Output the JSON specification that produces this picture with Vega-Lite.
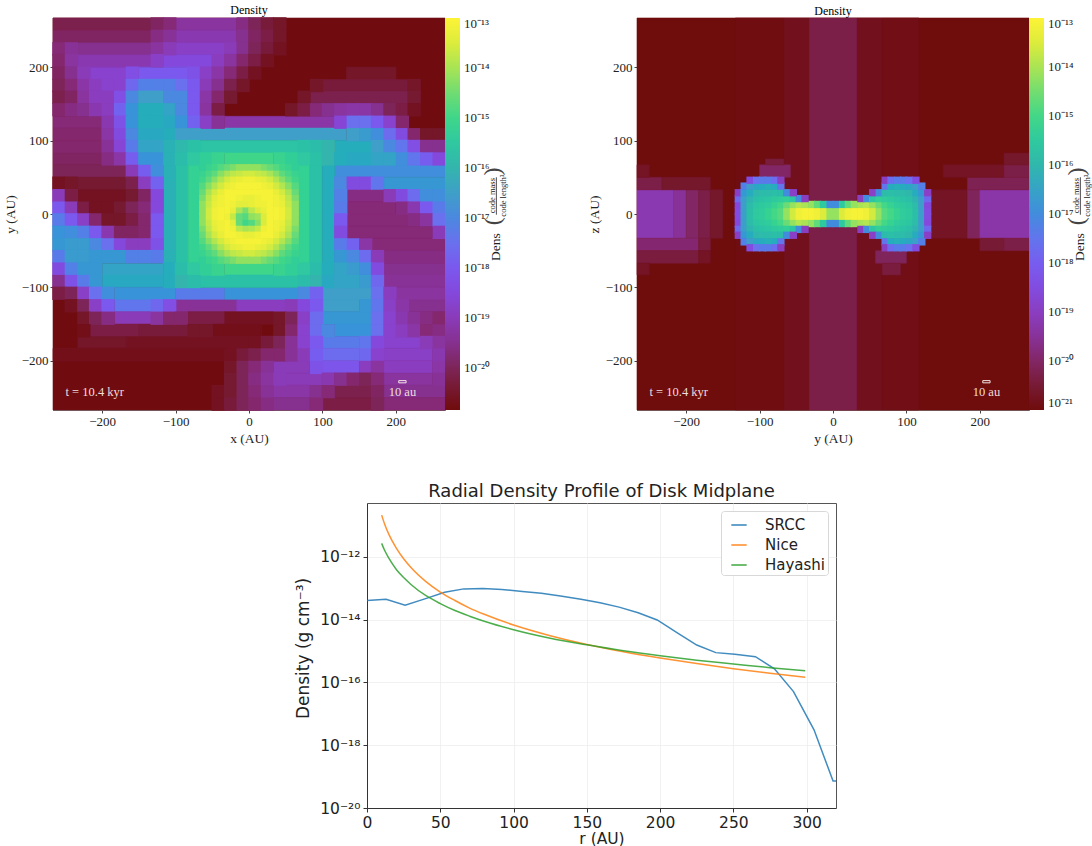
{"$schema":"https://vega.github.io/schema/vega-lite/v6.json","background":"white","padding":{"left":2,"top":3,"right":0,"bottom":0},
"datasets":{
"leftPatches":[
{"x":-267,"x2":267,"y":-267,"y2":267,"d":-20.8},
{"x":-267,"x2":-133,"y":250,"y2":267,"d":-20.1},{"x":-100,"x2":-17,"y":250,"y2":267,"d":-19.3},
{"x":-267,"x2":-133,"y":233,"y2":250,"d":-19.9},{"x":-100,"x2":-17,"y":233,"y2":250,"d":-19.1},
{"x":-233,"x2":-133,"y":217,"y2":233,"d":-19.5},{"x":-100,"x2":-33,"y":217,"y2":233,"d":-18.8},
{"x":-233,"x2":-133,"y":200,"y2":217,"d":-19.1},{"x":-117,"x2":-50,"y":200,"y2":217,"d":-18.5},
{"x":-217,"x2":-167,"y":183,"y2":200,"d":-18.7},{"x":-150,"x2":-83,"y":183,"y2":200,"d":-18},{"x":133,"x2":200,"y":183,"y2":200,"d":-20.5},
{"x":100,"x2":217,"y":167,"y2":183,"d":-20.3},{"x":83,"x2":217,"y":150,"y2":167,"d":-20.1},
{"x":-267,"x2":-200,"y":117,"y2":133,"d":-19.7},{"x":-33,"x2":117,"y":117,"y2":133,"d":-19.2},
{"x":-267,"x2":-200,"y":100,"y2":117,"d":-19.8},{"x":-67,"x2":133,"y":100,"y2":117,"d":-16.5},
{"x":-267,"x2":-200,"y":83,"y2":100,"d":-19.8},{"x":-67,"x2":67,"y":83,"y2":100,"d":-15.6},{"x":117,"x2":167,"y":83,"y2":100,"d":-16.2},
{"x":-267,"x2":-200,"y":67,"y2":83,"d":-19.9},{"x":-33,"x2":33,"y":67,"y2":83,"d":-15},
{"x":-267,"x2":-167,"y":50,"y2":67,"d":-20},{"x":117,"x2":267,"y":50,"y2":67,"d":-16.9},
{"x":-233,"x2":-167,"y":33,"y2":50,"d":-20.4},{"x":183,"x2":267,"y":33,"y2":50,"d":-16.7},
{"x":-233,"x2":-167,"y":17,"y2":33,"d":-20.6},
{"x":133,"x2":183,"y":17,"y2":33,"d":-19.6},
{"x":133,"x2":200,"y":0,"y2":17,"d":-19.7},
{"x":133,"x2":217,"y":-17,"y2":0,"d":-19.7},
{"x":133,"x2":250,"y":-33,"y2":-17,"d":-19.7},
{"x":167,"x2":267,"y":-50,"y2":-33,"d":-19.7},
{"x":183,"x2":267,"y":-67,"y2":-50,"d":-19.6},
{"x":183,"x2":267,"y":-83,"y2":-67,"d":-19.5},{"x":-200,"x2":-117,"y":-83,"y2":-67,"d":-16.4},
{"x":183,"x2":267,"y":-100,"y2":-83,"d":-19.4},{"x":-200,"x2":-117,"y":-100,"y2":-83,"d":-16.3},
{"x":200,"x2":267,"y":-117,"y2":-100,"d":-19.3},{"x":-183,"x2":-100,"y":-117,"y2":-100,"d":-16.8},{"x":-100,"x2":-33,"y":-117,"y2":-100,"d":-17.3},{"x":-33,"x2":67,"y":-117,"y2":-100,"d":-16.8},{"x":100,"x2":167,"y":-117,"y2":-100,"d":-16.5},
{"x":217,"x2":267,"y":-133,"y2":-117,"d":-19.5},{"x":-183,"x2":-133,"y":-133,"y2":-117,"d":-17.4},{"x":-100,"x2":-17,"y":-133,"y2":-117,"d":-19.4},{"x":-17,"x2":50,"y":-133,"y2":-117,"d":-18.9},{"x":100,"x2":150,"y":-133,"y2":-117,"d":-16.5},
{"x":-183,"x2":-133,"y":-150,"y2":-133,"d":-19},{"x":-83,"x2":-33,"y":-150,"y2":-133,"d":-20.2},{"x":-33,"x2":33,"y":-150,"y2":-133,"d":-20.6},{"x":100,"x2":167,"y":-150,"y2":-133,"d":-16.7},
{"x":-217,"x2":-150,"y":-167,"y2":-150,"d":-20.2},{"x":-150,"x2":-83,"y":-167,"y2":-150,"d":-20.3},{"x":-50,"x2":17,"y":-167,"y2":-150,"d":-20.7},{"x":117,"x2":167,"y":-167,"y2":-150,"d":-16.8},
{"x":-233,"x2":-167,"y":-183,"y2":-167,"d":-20.5},{"x":-167,"x2":0,"y":-183,"y2":-167,"d":-20.6},{"x":100,"x2":150,"y":-183,"y2":-167,"d":-17.3},{"x":183,"x2":233,"y":-183,"y2":-167,"d":-18.7},
{"x":-267,"x2":-33,"y":-200,"y2":-183,"d":-20.7},{"x":100,"x2":150,"y":-200,"y2":-183,"d":-17.6},{"x":183,"x2":250,"y":-200,"y2":-183,"d":-18.8},
{"x":100,"x2":150,"y":-217,"y2":-200,"d":-18.1},{"x":183,"x2":250,"y":-217,"y2":-200,"d":-18.9},{"x":33,"x2":83,"y":-217,"y2":-200,"d":-19},
{"x":50,"x2":100,"y":-233,"y2":-217,"d":-19},{"x":183,"x2":250,"y":-233,"y2":-217,"d":-19.3},
{"x":33,"x2":83,"y":-250,"y2":-233,"d":-19.2},{"x":117,"x2":167,"y":-250,"y2":-233,"d":-20.1},{"x":183,"x2":267,"y":-250,"y2":-233,"d":-19.5},
{"x":33,"x2":83,"y":-267,"y2":-250,"d":-19.5},{"x":100,"x2":167,"y":-267,"y2":-250,"d":-20.2},{"x":183,"x2":267,"y":-267,"y2":-250,"d":-19.7},
{"x":-117,"x2":-100,"y":-67,"y2":67,"d":-16.1},{"x":-100,"x2":-83,"y":-67,"y2":67,"d":-15.7},{"x":-83,"x2":-67,"y":-67,"y2":67,"d":-15.2},{"x":67,"x2":83,"y":-67,"y2":67,"d":-15.2},{"x":83,"x2":100,"y":-67,"y2":67,"d":-15.7},{"x":100,"x2":117,"y":-67,"y2":67,"d":-16.2},
{"x":-33,"x2":33,"y":-83,"y2":-67,"d":-15},{"x":-67,"x2":67,"y":-100,"y2":-83,"d":-15.7}
],
"leftCells":[
{"x":-125,"y":259,"d":-19.9},{"x":-108,"y":259,"d":-19.7},{"x":-8,"y":259,"d":-19.6},{"x":8,"y":259,"d":-20},{"x":25,"y":259,"d":-20.3},{"x":42,"y":259,"d":-20.5},
{"x":-125,"y":242,"d":-19.6},{"x":-108,"y":242,"d":-19.4},{"x":-8,"y":242,"d":-19.5},{"x":8,"y":242,"d":-19.9},{"x":25,"y":242,"d":-20.2},{"x":42,"y":242,"d":-20.5},
{"x":-259,"y":225,"d":-19.7},{"x":-242,"y":225,"d":-19.4},{"x":-125,"y":225,"d":-19.3},{"x":-108,"y":225,"d":-19},{"x":-25,"y":225,"d":-19},{"x":-8,"y":225,"d":-19.5},{"x":8,"y":225,"d":-20},{"x":25,"y":225,"d":-20.3},{"x":42,"y":225,"d":-20.6},
{"x":-259,"y":209,"d":-19.8},{"x":-242,"y":209,"d":-19.3},{"x":-125,"y":209,"d":-18.8},{"x":-42,"y":209,"d":-18.9},{"x":-25,"y":209,"d":-19.3},{"x":-8,"y":209,"d":-19.8},{"x":8,"y":209,"d":-20.2},{"x":25,"y":209,"d":-20.6},
{"x":-259,"y":192,"d":-19.9},{"x":-242,"y":192,"d":-19.5},{"x":-225,"y":192,"d":-19},{"x":-159,"y":192,"d":-18.3},{"x":-75,"y":192,"d":-18.2},{"x":-58,"y":192,"d":-18.8},{"x":-42,"y":192,"d":-19.2},{"x":-25,"y":192,"d":-19.7},{"x":-8,"y":192,"d":-20.2},{"x":8,"y":192,"d":-20.6},
{"x":-259,"y":175,"d":-20},{"x":-242,"y":175,"d":-19.7},{"x":-225,"y":175,"d":-19.2},{"x":-209,"y":175,"d":-18.9},{"x":-192,"y":175,"d":-18.7},{"x":-175,"y":175,"d":-18.7},{"x":-159,"y":175,"d":-17.7},{"x":-142,"y":175,"d":-17.2},{"x":-125,"y":175,"d":-17.2},{"x":-108,"y":175,"d":-17.2},{"x":-92,"y":175,"d":-17.5},{"x":-75,"y":175,"d":-18},{"x":-58,"y":175,"d":-19},{"x":-42,"y":175,"d":-19.5},{"x":-25,"y":175,"d":-20.1},{"x":-8,"y":175,"d":-20.5},{"x":92,"y":175,"d":-20.5},{"x":225,"y":175,"d":-20.5},
{"x":-259,"y":159,"d":-20.1},{"x":-242,"y":159,"d":-19.9},{"x":-225,"y":159,"d":-19.3},{"x":-209,"y":159,"d":-18.9},{"x":-192,"y":159,"d":-18.9},{"x":-175,"y":159,"d":-18.3},{"x":-159,"y":159,"d":-17},{"x":-142,"y":159,"d":-16.5},{"x":-125,"y":159,"d":-16.5},{"x":-108,"y":159,"d":-17},{"x":-92,"y":159,"d":-17},{"x":-75,"y":159,"d":-18},{"x":-58,"y":159,"d":-19.2},{"x":-42,"y":159,"d":-19.8},{"x":-25,"y":159,"d":-20.4},{"x":75,"y":159,"d":-20.5},{"x":225,"y":159,"d":-20.4},
{"x":-259,"y":142,"d":-19.8},{"x":-242,"y":142,"d":-19.6},{"x":-225,"y":142,"d":-19.5},{"x":-209,"y":142,"d":-19.1},{"x":-192,"y":142,"d":-18.9},{"x":-175,"y":142,"d":-17.8},{"x":-159,"y":142,"d":-16.8},{"x":-142,"y":142,"d":-16.2},{"x":-125,"y":142,"d":-16.2},{"x":-108,"y":142,"d":-16.4},{"x":-92,"y":142,"d":-17},{"x":-75,"y":142,"d":-18},{"x":-58,"y":142,"d":-19.3},{"x":-42,"y":142,"d":-20.2},{"x":58,"y":142,"d":-20.5},{"x":75,"y":142,"d":-20.2},{"x":92,"y":142,"d":-19.7},{"x":108,"y":142,"d":-19.5},{"x":125,"y":142,"d":-19.3},{"x":142,"y":142,"d":-19.2},{"x":159,"y":142,"d":-19.2},{"x":175,"y":142,"d":-19.5},{"x":192,"y":142,"d":-20},{"x":209,"y":142,"d":-20.2},{"x":225,"y":142,"d":-20.6},
{"x":-192,"y":125,"d":-19.1},{"x":-175,"y":125,"d":-18.2},{"x":-159,"y":125,"d":-16.8},{"x":-142,"y":125,"d":-16.2},{"x":-125,"y":125,"d":-16.2},{"x":-108,"y":125,"d":-16.3},{"x":-92,"y":125,"d":-16.8},{"x":-75,"y":125,"d":-17.8},{"x":-58,"y":125,"d":-18.8},{"x":-42,"y":125,"d":-19.4},{"x":125,"y":125,"d":-18.6},{"x":142,"y":125,"d":-17.5},{"x":159,"y":125,"d":-17.5},{"x":175,"y":125,"d":-18},{"x":192,"y":125,"d":-18.7},{"x":209,"y":125,"d":-19.8},
{"x":-192,"y":108,"d":-19.2},{"x":-175,"y":108,"d":-18.4},{"x":-159,"y":108,"d":-17},{"x":-142,"y":108,"d":-16.3},{"x":-125,"y":108,"d":-16.3},{"x":-108,"y":108,"d":-16.2},{"x":-92,"y":108,"d":-16.5},{"x":-75,"y":108,"d":-16.5},{"x":142,"y":108,"d":-16.5},{"x":159,"y":108,"d":-16.6},{"x":175,"y":108,"d":-16.9},{"x":192,"y":108,"d":-17.6},{"x":209,"y":108,"d":-18.4},{"x":225,"y":108,"d":-19.8},{"x":242,"y":108,"d":-20.5},{"x":259,"y":108,"d":-20.5},
{"x":-192,"y":92,"d":-19.4},{"x":-175,"y":92,"d":-18.6},{"x":-159,"y":92,"d":-17.3},{"x":-142,"y":92,"d":-16.4},{"x":-125,"y":92,"d":-16.4},{"x":-108,"y":92,"d":-16.1},{"x":-92,"y":92,"d":-15.9},{"x":-75,"y":92,"d":-15.7},{"x":75,"y":92,"d":-15.7},{"x":92,"y":92,"d":-15.8},{"x":108,"y":92,"d":-16},{"x":175,"y":92,"d":-16.5},{"x":192,"y":92,"d":-17},{"x":209,"y":92,"d":-17.4},{"x":225,"y":92,"d":-18.3},{"x":242,"y":92,"d":-19.5},{"x":259,"y":92,"d":-19.5},
{"x":-192,"y":75,"d":-19.6},{"x":-175,"y":75,"d":-19.2},{"x":-159,"y":75,"d":-17.9},{"x":-142,"y":75,"d":-16.8},{"x":-125,"y":75,"d":-16.8},{"x":-108,"y":75,"d":-16.1},{"x":-92,"y":75,"d":-15.8},{"x":-75,"y":75,"d":-15.5},{"x":-58,"y":75,"d":-15.3},{"x":-42,"y":75,"d":-15.1},{"x":42,"y":75,"d":-15.1},{"x":58,"y":75,"d":-15.3},{"x":75,"y":75,"d":-15.5},{"x":92,"y":75,"d":-15.7},{"x":108,"y":75,"d":-16},{"x":125,"y":75,"d":-16.2},{"x":142,"y":75,"d":-16.3},{"x":159,"y":75,"d":-16.3},{"x":175,"y":75,"d":-16.4},{"x":192,"y":75,"d":-16.4},{"x":209,"y":75,"d":-16.9},{"x":225,"y":75,"d":-17.4},{"x":242,"y":75,"d":-17.9},{"x":259,"y":75,"d":-18.5},
{"x":-159,"y":58,"d":-19},{"x":-142,"y":58,"d":-17.9},{"x":-125,"y":58,"d":-16.9},
{"x":-259,"y":42,"d":-20.6},{"x":-242,"y":42,"d":-20.5},{"x":-159,"y":42,"d":-20.1},{"x":-142,"y":42,"d":-18.9},{"x":-125,"y":42,"d":-17.8},{"x":125,"y":42,"d":-17},{"x":142,"y":42,"d":-18.4},{"x":159,"y":42,"d":-18.4},{"x":175,"y":42,"d":-17.4},
{"x":-259,"y":25,"d":-19},{"x":-242,"y":25,"d":-20.2},{"x":-159,"y":25,"d":-20.4},{"x":-142,"y":25,"d":-19.9},{"x":-125,"y":25,"d":-18.5},{"x":125,"y":25,"d":-17.2},{"x":192,"y":25,"d":-19},{"x":209,"y":25,"d":-18.4},{"x":225,"y":25,"d":-17.6},{"x":242,"y":25,"d":-16.9},{"x":259,"y":25,"d":-16.9},
{"x":-259,"y":8,"d":-18},{"x":-242,"y":8,"d":-19},{"x":-225,"y":8,"d":-20.2},{"x":-209,"y":8,"d":-20.6},{"x":-192,"y":8,"d":-20.6},{"x":-175,"y":8,"d":-20.4},{"x":-159,"y":8,"d":-20},{"x":-142,"y":8,"d":-19.7},{"x":-125,"y":8,"d":-18.5},{"x":125,"y":8,"d":-17.3},{"x":209,"y":8,"d":-19.6},{"x":225,"y":8,"d":-19.1},{"x":242,"y":8,"d":-18},{"x":259,"y":8,"d":-17.3},
{"x":-259,"y":-8,"d":-17.3},{"x":-242,"y":-8,"d":-18},{"x":-225,"y":-8,"d":-18.8},{"x":-209,"y":-8,"d":-19.8},{"x":-192,"y":-8,"d":-20.5},{"x":-175,"y":-8,"d":-20.5},{"x":-159,"y":-8,"d":-20.2},{"x":-142,"y":-8,"d":-19.8},{"x":-125,"y":-8,"d":-18},{"x":125,"y":-8,"d":-18},{"x":225,"y":-8,"d":-19.6},{"x":242,"y":-8,"d":-19.3},{"x":259,"y":-8,"d":-17.5},
{"x":-259,"y":-25,"d":-16.8},{"x":-242,"y":-25,"d":-16.9},{"x":-225,"y":-25,"d":-17.2},{"x":-209,"y":-25,"d":-18},{"x":-192,"y":-25,"d":-19.1},{"x":-175,"y":-25,"d":-19.9},{"x":-159,"y":-25,"d":-19.9},{"x":-142,"y":-25,"d":-19.8},{"x":-125,"y":-25,"d":-18},{"x":125,"y":-25,"d":-18.4},{"x":259,"y":-25,"d":-19},
{"x":-259,"y":-42,"d":-16.7},{"x":-242,"y":-42,"d":-16.6},{"x":-225,"y":-42,"d":-16.6},{"x":-209,"y":-42,"d":-17},{"x":-192,"y":-42,"d":-17.5},{"x":-175,"y":-42,"d":-18.5},{"x":-159,"y":-42,"d":-18.9},{"x":-142,"y":-42,"d":-18.9},{"x":-125,"y":-42,"d":-18.2},{"x":125,"y":-42,"d":-17.3},{"x":142,"y":-42,"d":-17.8},{"x":159,"y":-42,"d":-19.2},
{"x":-259,"y":-58,"d":-17.3},{"x":-242,"y":-58,"d":-16.6},{"x":-225,"y":-58,"d":-16.6},{"x":-209,"y":-58,"d":-16.7},{"x":-192,"y":-58,"d":-16.7},{"x":-175,"y":-58,"d":-16.7},{"x":-159,"y":-58,"d":-17.2},{"x":-142,"y":-58,"d":-17.2},{"x":-125,"y":-58,"d":-17.3},{"x":125,"y":-58,"d":-16.7},{"x":142,"y":-58,"d":-17},{"x":159,"y":-58,"d":-17.6},{"x":175,"y":-58,"d":-19},
{"x":-259,"y":-75,"d":-18.4},{"x":-242,"y":-75,"d":-17.2},{"x":-225,"y":-75,"d":-16.7},{"x":-209,"y":-75,"d":-16.7},{"x":-108,"y":-75,"d":-16.2},{"x":-92,"y":-75,"d":-15.8},{"x":-75,"y":-75,"d":-15.5},{"x":-58,"y":-75,"d":-15.3},{"x":-42,"y":-75,"d":-15.1},{"x":42,"y":-75,"d":-15.1},{"x":58,"y":-75,"d":-15.3},{"x":75,"y":-75,"d":-15.5},{"x":92,"y":-75,"d":-15.8},{"x":108,"y":-75,"d":-16.2},{"x":125,"y":-75,"d":-16.4},{"x":142,"y":-75,"d":-16.6},{"x":159,"y":-75,"d":-16.9},{"x":175,"y":-75,"d":-18.4},
{"x":-259,"y":-92,"d":-19.5},{"x":-242,"y":-92,"d":-18.2},{"x":-225,"y":-92,"d":-17.3},{"x":-209,"y":-92,"d":-16.7},{"x":-108,"y":-92,"d":-16.2},{"x":-92,"y":-92,"d":-16},{"x":-75,"y":-92,"d":-15.8},{"x":75,"y":-92,"d":-15.8},{"x":92,"y":-92,"d":-16},{"x":108,"y":-92,"d":-16.3},{"x":125,"y":-92,"d":-16.4},{"x":142,"y":-92,"d":-16.4},{"x":159,"y":-92,"d":-16.6},{"x":175,"y":-92,"d":-17.7},
{"x":-259,"y":-108,"d":-20.2},{"x":-242,"y":-108,"d":-20},{"x":-225,"y":-108,"d":-18.8},{"x":-209,"y":-108,"d":-17.5},{"x":-192,"y":-108,"d":-16.9},{"x":75,"y":-108,"d":-17},{"x":92,"y":-108,"d":-17.8},{"x":175,"y":-108,"d":-17.5},{"x":192,"y":-108,"d":-18.9},
{"x":-242,"y":-125,"d":-20.6},{"x":-225,"y":-125,"d":-20},{"x":-209,"y":-125,"d":-18.8},{"x":-192,"y":-125,"d":-18},{"x":-125,"y":-125,"d":-17.7},{"x":-108,"y":-125,"d":-18.3},{"x":58,"y":-125,"d":-19},{"x":75,"y":-125,"d":-18.5},{"x":92,"y":-125,"d":-18},{"x":159,"y":-125,"d":-16.7},{"x":175,"y":-125,"d":-17.4},{"x":192,"y":-125,"d":-18.8},{"x":209,"y":-125,"d":-19.2},
{"x":-225,"y":-142,"d":-20.5},{"x":-209,"y":-142,"d":-20},{"x":-192,"y":-142,"d":-19.6},{"x":-125,"y":-142,"d":-19.3},{"x":-108,"y":-142,"d":-19.8},{"x":-92,"y":-142,"d":-19.8},{"x":42,"y":-142,"d":-20.5},{"x":58,"y":-142,"d":-20},{"x":75,"y":-142,"d":-18.8},{"x":92,"y":-142,"d":-17.6},{"x":175,"y":-142,"d":-17.5},{"x":192,"y":-142,"d":-18.7},{"x":209,"y":-142,"d":-19.1},{"x":225,"y":-142,"d":-19.4},{"x":242,"y":-142,"d":-19.6},{"x":259,"y":-142,"d":-19.8},
{"x":-225,"y":-159,"d":-20.7},{"x":-75,"y":-159,"d":-20.5},{"x":-58,"y":-159,"d":-20.5},{"x":42,"y":-159,"d":-20.5},{"x":58,"y":-159,"d":-19.8},{"x":75,"y":-159,"d":-18.7},{"x":92,"y":-159,"d":-17.6},{"x":108,"y":-159,"d":-17},{"x":175,"y":-159,"d":-17.5},{"x":192,"y":-159,"d":-18.7},{"x":209,"y":-159,"d":-18.9},{"x":225,"y":-159,"d":-19.2},{"x":242,"y":-159,"d":-19.7},{"x":259,"y":-159,"d":-19.6},
{"x":8,"y":-175,"d":-20.6},{"x":25,"y":-175,"d":-20.3},{"x":42,"y":-175,"d":-20},{"x":58,"y":-175,"d":-19.4},{"x":75,"y":-175,"d":-18.7},{"x":92,"y":-175,"d":-18},{"x":159,"y":-175,"d":-17.4},{"x":175,"y":-175,"d":-18.5},{"x":242,"y":-175,"d":-19},{"x":259,"y":-175,"d":-19.3},
{"x":-25,"y":-192,"d":-20.6},{"x":-8,"y":-192,"d":-20.3},{"x":8,"y":-192,"d":-20.1},{"x":25,"y":-192,"d":-19.8},{"x":42,"y":-192,"d":-19.8},{"x":58,"y":-192,"d":-19.4},{"x":75,"y":-192,"d":-19},{"x":92,"y":-192,"d":-17.9},{"x":159,"y":-192,"d":-17.7},{"x":175,"y":-192,"d":-18.7},{"x":259,"y":-192,"d":-19.1},
{"x":-25,"y":-209,"d":-20.5},{"x":-8,"y":-209,"d":-20},{"x":8,"y":-209,"d":-19.7},{"x":25,"y":-209,"d":-19.4},{"x":92,"y":-209,"d":-18.2},{"x":159,"y":-209,"d":-18.9},{"x":175,"y":-209,"d":-19.3},{"x":259,"y":-209,"d":-19.2},
{"x":-25,"y":-225,"d":-20.4},{"x":-8,"y":-225,"d":-20},{"x":8,"y":-225,"d":-19.6},{"x":25,"y":-225,"d":-19.3},{"x":42,"y":-225,"d":-19},{"x":108,"y":-225,"d":-19.1},{"x":125,"y":-225,"d":-19.5},{"x":142,"y":-225,"d":-19.8},{"x":159,"y":-225,"d":-20},{"x":175,"y":-225,"d":-19.7},{"x":259,"y":-225,"d":-19.4},
{"x":-42,"y":-242,"d":-20.6},{"x":-25,"y":-242,"d":-20.4},{"x":-8,"y":-242,"d":-20},{"x":8,"y":-242,"d":-19.7},{"x":25,"y":-242,"d":-19.4},{"x":92,"y":-242,"d":-19.5},{"x":108,"y":-242,"d":-19.7},{"x":175,"y":-242,"d":-19.9},
{"x":-42,"y":-259,"d":-20.6},{"x":-25,"y":-259,"d":-20.3},{"x":-8,"y":-259,"d":-20},{"x":8,"y":-259,"d":-19.8},{"x":25,"y":-259,"d":-19.6},{"x":92,"y":-259,"d":-19.7},{"x":175,"y":-259,"d":-20}
],
"leftFine":[
{"x":-63,"y":63,"d":-15.3},{"x":-54,"y":63,"d":-15.1},{"x":-46,"y":63,"d":-15},{"x":-38,"y":63,"d":-14.8},{"x":-29,"y":63,"d":-14.6},{"x":-21,"y":63,"d":-14.4},{"x":-13,"y":63,"d":-14.2},{"x":-4,"y":63,"d":-14.2},{"x":4,"y":63,"d":-14.2},{"x":13,"y":63,"d":-14.2},{"x":21,"y":63,"d":-14.4},{"x":29,"y":63,"d":-14.6},{"x":38,"y":63,"d":-14.8},{"x":46,"y":63,"d":-15},{"x":54,"y":63,"d":-15.1},{"x":63,"y":63,"d":-15.3},
{"x":-63,"y":54,"d":-15.1},{"x":-54,"y":54,"d":-14.9},{"x":-46,"y":54,"d":-14.7},{"x":-38,"y":54,"d":-14.3},{"x":-29,"y":54,"d":-14},{"x":-21,"y":54,"d":-13.8},{"x":-13,"y":54,"d":-13.7},{"x":-4,"y":54,"d":-13.6},{"x":4,"y":54,"d":-13.6},{"x":13,"y":54,"d":-13.7},{"x":21,"y":54,"d":-13.8},{"x":29,"y":54,"d":-14},{"x":38,"y":54,"d":-14.3},{"x":46,"y":54,"d":-14.7},{"x":54,"y":54,"d":-14.9},{"x":63,"y":54,"d":-15.1},
{"x":-63,"y":46,"d":-15},{"x":-54,"y":46,"d":-14.7},{"x":-46,"y":46,"d":-14.3},{"x":-38,"y":46,"d":-13.9},{"x":-29,"y":46,"d":-13.6},{"x":-21,"y":46,"d":-13.4},{"x":-13,"y":46,"d":-13.3},{"x":-4,"y":46,"d":-13.2},{"x":4,"y":46,"d":-13.2},{"x":13,"y":46,"d":-13.3},{"x":21,"y":46,"d":-13.4},{"x":29,"y":46,"d":-13.6},{"x":38,"y":46,"d":-13.9},{"x":46,"y":46,"d":-14.3},{"x":54,"y":46,"d":-14.7},{"x":63,"y":46,"d":-15},
{"x":-63,"y":38,"d":-14.8},{"x":-54,"y":38,"d":-14.3},{"x":-46,"y":38,"d":-13.9},{"x":-38,"y":38,"d":-13.6},{"x":-29,"y":38,"d":-13.3},{"x":-21,"y":38,"d":-13.2},{"x":-13,"y":38,"d":-13.1},{"x":-4,"y":38,"d":-13.1},{"x":4,"y":38,"d":-13.1},{"x":13,"y":38,"d":-13.1},{"x":21,"y":38,"d":-13.2},{"x":29,"y":38,"d":-13.3},{"x":38,"y":38,"d":-13.6},{"x":46,"y":38,"d":-13.9},{"x":54,"y":38,"d":-14.3},{"x":63,"y":38,"d":-14.8},
{"x":-63,"y":29,"d":-14.6},{"x":-54,"y":29,"d":-14},{"x":-46,"y":29,"d":-13.6},{"x":-38,"y":29,"d":-13.3},{"x":-29,"y":29,"d":-13.1},{"x":-21,"y":29,"d":-13.1},{"x":-13,"y":29,"d":-13.1},{"x":-4,"y":29,"d":-13.1},{"x":4,"y":29,"d":-13.1},{"x":13,"y":29,"d":-13.1},{"x":21,"y":29,"d":-13.1},{"x":29,"y":29,"d":-13.1},{"x":38,"y":29,"d":-13.3},{"x":46,"y":29,"d":-13.6},{"x":54,"y":29,"d":-14},{"x":63,"y":29,"d":-14.6},
{"x":-63,"y":21,"d":-14.4},{"x":-54,"y":21,"d":-13.8},{"x":-46,"y":21,"d":-13.4},{"x":-38,"y":21,"d":-13.2},{"x":-29,"y":21,"d":-13.1},{"x":-21,"y":21,"d":-13.1},{"x":-13,"y":21,"d":-13.2},{"x":-4,"y":21,"d":-13.3},{"x":4,"y":21,"d":-13.3},{"x":13,"y":21,"d":-13.2},{"x":21,"y":21,"d":-13.1},{"x":29,"y":21,"d":-13.1},{"x":38,"y":21,"d":-13.2},{"x":46,"y":21,"d":-13.4},{"x":54,"y":21,"d":-13.8},{"x":63,"y":21,"d":-14.4},
{"x":-63,"y":13,"d":-14.2},{"x":-54,"y":13,"d":-13.7},{"x":-46,"y":13,"d":-13.3},{"x":-38,"y":13,"d":-13.2},{"x":-29,"y":13,"d":-13.1},{"x":-21,"y":13,"d":-13.2},{"x":-13,"y":13,"d":-13.4},{"x":-4,"y":13,"d":-13.4},{"x":4,"y":13,"d":-13.3},{"x":13,"y":13,"d":-13.2},{"x":21,"y":13,"d":-13.2},{"x":29,"y":13,"d":-13.1},{"x":38,"y":13,"d":-13.2},{"x":46,"y":13,"d":-13.3},{"x":54,"y":13,"d":-13.7},{"x":63,"y":13,"d":-14.2},
{"x":-63,"y":4,"d":-14.2},{"x":-54,"y":4,"d":-13.6},{"x":-46,"y":4,"d":-13.2},{"x":-38,"y":4,"d":-13.1},{"x":-29,"y":4,"d":-13.1},{"x":-21,"y":4,"d":-13.3},{"x":-13,"y":4,"d":-14},{"x":-4,"y":4,"d":-14.4},{"x":4,"y":4,"d":-13.8},{"x":13,"y":4,"d":-13.5},{"x":21,"y":4,"d":-13.3},{"x":29,"y":4,"d":-13.1},{"x":38,"y":4,"d":-13.1},{"x":46,"y":4,"d":-13.2},{"x":54,"y":4,"d":-13.6},{"x":63,"y":4,"d":-14.2},
{"x":-63,"y":-4,"d":-14.2},{"x":-54,"y":-4,"d":-13.6},{"x":-46,"y":-4,"d":-13.2},{"x":-38,"y":-4,"d":-13.1},{"x":-29,"y":-4,"d":-13.2},{"x":-21,"y":-4,"d":-13.7},{"x":-13,"y":-4,"d":-14.6},{"x":-4,"y":-4,"d":-14.8},{"x":4,"y":-4,"d":-14.2},{"x":13,"y":-4,"d":-14.1},{"x":21,"y":-4,"d":-13.5},{"x":29,"y":-4,"d":-13.1},{"x":38,"y":-4,"d":-13.1},{"x":46,"y":-4,"d":-13.2},{"x":54,"y":-4,"d":-13.6},{"x":63,"y":-4,"d":-14.2},
{"x":-63,"y":-13,"d":-14.2},{"x":-54,"y":-13,"d":-13.7},{"x":-46,"y":-13,"d":-13.3},{"x":-38,"y":-13,"d":-13.2},{"x":-29,"y":-13,"d":-13.1},{"x":-21,"y":-13,"d":-13.4},{"x":-13,"y":-13,"d":-14.6},{"x":-4,"y":-13,"d":-15},{"x":4,"y":-13,"d":-14.8},{"x":13,"y":-13,"d":-14.3},{"x":21,"y":-13,"d":-13.5},{"x":29,"y":-13,"d":-13.1},{"x":38,"y":-13,"d":-13.2},{"x":46,"y":-13,"d":-13.3},{"x":54,"y":-13,"d":-13.7},{"x":63,"y":-13,"d":-14.2},
{"x":-63,"y":-21,"d":-14.4},{"x":-54,"y":-21,"d":-13.8},{"x":-46,"y":-21,"d":-13.4},{"x":-38,"y":-21,"d":-13.2},{"x":-29,"y":-21,"d":-13.1},{"x":-21,"y":-21,"d":-13.2},{"x":-13,"y":-21,"d":-13.8},{"x":-4,"y":-21,"d":-14},{"x":4,"y":-21,"d":-13.9},{"x":13,"y":-21,"d":-13.7},{"x":21,"y":-21,"d":-13.2},{"x":29,"y":-21,"d":-13.1},{"x":38,"y":-21,"d":-13.2},{"x":46,"y":-21,"d":-13.4},{"x":54,"y":-21,"d":-13.8},{"x":63,"y":-21,"d":-14.4},
{"x":-63,"y":-29,"d":-14.6},{"x":-54,"y":-29,"d":-14},{"x":-46,"y":-29,"d":-13.6},{"x":-38,"y":-29,"d":-13.3},{"x":-29,"y":-29,"d":-13.1},{"x":-21,"y":-29,"d":-13.1},{"x":-13,"y":-29,"d":-13.2},{"x":-4,"y":-29,"d":-13.3},{"x":4,"y":-29,"d":-13.3},{"x":13,"y":-29,"d":-13.2},{"x":21,"y":-29,"d":-13.1},{"x":29,"y":-29,"d":-13.1},{"x":38,"y":-29,"d":-13.3},{"x":46,"y":-29,"d":-13.6},{"x":54,"y":-29,"d":-14},{"x":63,"y":-29,"d":-14.6},
{"x":-63,"y":-38,"d":-14.8},{"x":-54,"y":-38,"d":-14.3},{"x":-46,"y":-38,"d":-13.9},{"x":-38,"y":-38,"d":-13.6},{"x":-29,"y":-38,"d":-13.3},{"x":-21,"y":-38,"d":-13.2},{"x":-13,"y":-38,"d":-13.1},{"x":-4,"y":-38,"d":-13.1},{"x":4,"y":-38,"d":-13.1},{"x":13,"y":-38,"d":-13.1},{"x":21,"y":-38,"d":-13.2},{"x":29,"y":-38,"d":-13.3},{"x":38,"y":-38,"d":-13.6},{"x":46,"y":-38,"d":-13.9},{"x":54,"y":-38,"d":-14.3},{"x":63,"y":-38,"d":-14.8},
{"x":-63,"y":-46,"d":-15},{"x":-54,"y":-46,"d":-14.7},{"x":-46,"y":-46,"d":-14.3},{"x":-38,"y":-46,"d":-13.9},{"x":-29,"y":-46,"d":-13.6},{"x":-21,"y":-46,"d":-13.4},{"x":-13,"y":-46,"d":-13.3},{"x":-4,"y":-46,"d":-13.2},{"x":4,"y":-46,"d":-13.2},{"x":13,"y":-46,"d":-13.3},{"x":21,"y":-46,"d":-13.4},{"x":29,"y":-46,"d":-13.6},{"x":38,"y":-46,"d":-13.9},{"x":46,"y":-46,"d":-14.3},{"x":54,"y":-46,"d":-14.7},{"x":63,"y":-46,"d":-15},
{"x":-63,"y":-54,"d":-15.1},{"x":-54,"y":-54,"d":-14.9},{"x":-46,"y":-54,"d":-14.7},{"x":-38,"y":-54,"d":-14.3},{"x":-29,"y":-54,"d":-14},{"x":-21,"y":-54,"d":-13.8},{"x":-13,"y":-54,"d":-13.7},{"x":-4,"y":-54,"d":-13.6},{"x":4,"y":-54,"d":-13.6},{"x":13,"y":-54,"d":-13.7},{"x":21,"y":-54,"d":-13.8},{"x":29,"y":-54,"d":-14},{"x":38,"y":-54,"d":-14.3},{"x":46,"y":-54,"d":-14.7},{"x":54,"y":-54,"d":-14.9},{"x":63,"y":-54,"d":-15.1},
{"x":-63,"y":-63,"d":-15.3},{"x":-54,"y":-63,"d":-15.1},{"x":-46,"y":-63,"d":-15},{"x":-38,"y":-63,"d":-14.8},{"x":-29,"y":-63,"d":-14.6},{"x":-21,"y":-63,"d":-14.4},{"x":-13,"y":-63,"d":-14.2},{"x":-4,"y":-63,"d":-14.2},{"x":4,"y":-63,"d":-14.2},{"x":13,"y":-63,"d":-14.2},{"x":21,"y":-63,"d":-14.4},{"x":29,"y":-63,"d":-14.6},{"x":38,"y":-63,"d":-14.8},{"x":46,"y":-63,"d":-15},{"x":54,"y":-63,"d":-15.1},{"x":63,"y":-63,"d":-15.3}
],
"rightPatches":[
{"x":-267,"x2":267,"y":-267,"y2":267,"d":-21},
{"x":-33,"x2":33,"y":-267,"y2":267,"d":-20.3},{"x":-67,"x2":-33,"y":-267,"y2":267,"d":-20.8},{"x":33,"x2":67,"y":-267,"y2":267,"d":-20.8},{"x":67,"x2":117,"y":-267,"y2":267,"d":-20.9},{"x":-133,"x2":-67,"y":-267,"y2":267,"d":-20.95},
{"x":-267,"x2":-217,"y":-33,"y2":33,"d":-19.2},{"x":-217,"x2":-200,"y":-33,"y2":33,"d":-19.5},{"x":-200,"x2":-183,"y":-33,"y2":33,"d":-20},{"x":-183,"x2":-167,"y":-33,"y2":33,"d":-20.3},{"x":-167,"x2":-150,"y":-33,"y2":33,"d":-20.6},
{"x":-267,"x2":-233,"y":33,"y2":50,"d":-20.3},{"x":-233,"x2":-167,"y":33,"y2":50,"d":-20.6},{"x":-267,"x2":-250,"y":50,"y2":67,"d":-20.7},
{"x":-267,"x2":-183,"y":-50,"y2":-33,"d":-19.9},{"x":-183,"x2":-167,"y":-50,"y2":-33,"d":-20.4},{"x":-267,"x2":-183,"y":-67,"y2":-50,"d":-20.4},{"x":-183,"x2":-167,"y":-67,"y2":-50,"d":-20.7},{"x":-267,"x2":-250,"y":-83,"y2":-67,"d":-20.7},
{"x":133,"x2":183,"y":-33,"y2":33,"d":-20.7},{"x":183,"x2":200,"y":-33,"y2":33,"d":-20.1},{"x":200,"x2":267,"y":-33,"y2":33,"d":-19.3},
{"x":183,"x2":267,"y":33,"y2":50,"d":-20.2},{"x":150,"x2":233,"y":50,"y2":67,"d":-20.7},{"x":233,"x2":267,"y":50,"y2":67,"d":-20.3},{"x":233,"x2":267,"y":67,"y2":83,"d":-20.6},
{"x":200,"x2":233,"y":-50,"y2":-33,"d":-20.5},{"x":233,"x2":267,"y":-50,"y2":-33,"d":-20.3},
{"x":-100,"x2":-58,"y":50,"y2":67,"d":-20},{"x":-92,"x2":-67,"y":67,"y2":75,"d":-20.4},{"x":58,"x2":100,"y":-67,"y2":-50,"d":-20.1},{"x":67,"x2":92,"y":-83,"y2":-67,"d":-20.4}
],
"rightFine":[
{"x":-129,"y":4,"d":-18.5},{"x":-121,"y":4,"d":-16.6},{"x":-113,"y":4,"d":-15.8},{"x":-104,"y":4,"d":-15.5},{"x":-96,"y":4,"d":-15.4},{"x":-88,"y":4,"d":-15.2},{"x":-79,"y":4,"d":-15},{"x":-71,"y":4,"d":-14.8},{"x":-63,"y":4,"d":-14.2},{"x":-54,"y":4,"d":-13.6},{"x":-46,"y":4,"d":-13.2},{"x":-38,"y":4,"d":-13.1},{"x":-29,"y":4,"d":-13.1},{"x":-21,"y":4,"d":-13.2},{"x":-13,"y":4,"d":-13.5},{"x":-4,"y":4,"d":-14.2},{"x":4,"y":4,"d":-14.2},{"x":13,"y":4,"d":-13.5},{"x":21,"y":4,"d":-13.2},{"x":29,"y":4,"d":-13.1},{"x":38,"y":4,"d":-13.1},{"x":46,"y":4,"d":-13.2},{"x":54,"y":4,"d":-13.6},{"x":63,"y":4,"d":-14.2},{"x":71,"y":4,"d":-14.8},{"x":79,"y":4,"d":-15},{"x":88,"y":4,"d":-15.2},{"x":96,"y":4,"d":-15.4},{"x":104,"y":4,"d":-15.5},{"x":113,"y":4,"d":-15.8},{"x":121,"y":4,"d":-16.6},{"x":129,"y":4,"d":-18.5},
{"x":-129,"y":-4,"d":-18.5},{"x":-121,"y":-4,"d":-16.6},{"x":-113,"y":-4,"d":-15.8},{"x":-104,"y":-4,"d":-15.5},{"x":-96,"y":-4,"d":-15.4},{"x":-88,"y":-4,"d":-15.2},{"x":-79,"y":-4,"d":-15},{"x":-71,"y":-4,"d":-14.8},{"x":-63,"y":-4,"d":-14.2},{"x":-54,"y":-4,"d":-13.6},{"x":-46,"y":-4,"d":-13.2},{"x":-38,"y":-4,"d":-13.1},{"x":-29,"y":-4,"d":-13.1},{"x":-21,"y":-4,"d":-13.2},{"x":-13,"y":-4,"d":-13.5},{"x":-4,"y":-4,"d":-14.2},{"x":4,"y":-4,"d":-14.2},{"x":13,"y":-4,"d":-13.5},{"x":21,"y":-4,"d":-13.2},{"x":29,"y":-4,"d":-13.1},{"x":38,"y":-4,"d":-13.1},{"x":46,"y":-4,"d":-13.2},{"x":54,"y":-4,"d":-13.6},{"x":63,"y":-4,"d":-14.2},{"x":71,"y":-4,"d":-14.8},{"x":79,"y":-4,"d":-15},{"x":88,"y":-4,"d":-15.2},{"x":96,"y":-4,"d":-15.4},{"x":104,"y":-4,"d":-15.5},{"x":113,"y":-4,"d":-15.8},{"x":121,"y":-4,"d":-16.6},{"x":129,"y":-4,"d":-18.5},
{"x":-129,"y":13,"d":-18.6},{"x":-121,"y":13,"d":-16.6},{"x":-113,"y":13,"d":-15.9},{"x":-104,"y":13,"d":-15.6},{"x":-96,"y":13,"d":-15.5},{"x":-88,"y":13,"d":-15.4},{"x":-79,"y":13,"d":-15.2},{"x":-71,"y":13,"d":-15},{"x":-63,"y":13,"d":-14.6},{"x":-54,"y":13,"d":-14.2},{"x":-46,"y":13,"d":-13.9},{"x":-38,"y":13,"d":-14},{"x":-29,"y":13,"d":-14.2},{"x":-21,"y":13,"d":-14.7},{"x":-13,"y":13,"d":-15.5},{"x":-4,"y":13,"d":-17},{"x":4,"y":13,"d":-17},{"x":13,"y":13,"d":-15.5},{"x":21,"y":13,"d":-14.7},{"x":29,"y":13,"d":-14.2},{"x":38,"y":13,"d":-14},{"x":46,"y":13,"d":-13.9},{"x":54,"y":13,"d":-14.2},{"x":63,"y":13,"d":-14.6},{"x":71,"y":13,"d":-15},{"x":79,"y":13,"d":-15.2},{"x":88,"y":13,"d":-15.4},{"x":96,"y":13,"d":-15.5},{"x":104,"y":13,"d":-15.6},{"x":113,"y":13,"d":-15.9},{"x":121,"y":13,"d":-16.6},{"x":129,"y":13,"d":-18.6},
{"x":-129,"y":-13,"d":-18.6},{"x":-121,"y":-13,"d":-16.6},{"x":-113,"y":-13,"d":-15.9},{"x":-104,"y":-13,"d":-15.6},{"x":-96,"y":-13,"d":-15.5},{"x":-88,"y":-13,"d":-15.4},{"x":-79,"y":-13,"d":-15.2},{"x":-71,"y":-13,"d":-15},{"x":-63,"y":-13,"d":-14.6},{"x":-54,"y":-13,"d":-14.2},{"x":-46,"y":-13,"d":-13.9},{"x":-38,"y":-13,"d":-14},{"x":-29,"y":-13,"d":-14.2},{"x":-21,"y":-13,"d":-14.7},{"x":-13,"y":-13,"d":-15.5},{"x":-4,"y":-13,"d":-17},{"x":4,"y":-13,"d":-17},{"x":13,"y":-13,"d":-15.5},{"x":21,"y":-13,"d":-14.7},{"x":29,"y":-13,"d":-14.2},{"x":38,"y":-13,"d":-14},{"x":46,"y":-13,"d":-13.9},{"x":54,"y":-13,"d":-14.2},{"x":63,"y":-13,"d":-14.6},{"x":71,"y":-13,"d":-15},{"x":79,"y":-13,"d":-15.2},{"x":88,"y":-13,"d":-15.4},{"x":96,"y":-13,"d":-15.5},{"x":104,"y":-13,"d":-15.6},{"x":113,"y":-13,"d":-15.9},{"x":121,"y":-13,"d":-16.6},{"x":129,"y":-13,"d":-18.6},
{"x":-129,"y":21,"d":-17.8},{"x":-121,"y":21,"d":-16.6},{"x":-113,"y":21,"d":-16.1},{"x":-104,"y":21,"d":-15.8},{"x":-96,"y":21,"d":-15.7},{"x":-88,"y":21,"d":-15.6},{"x":-79,"y":21,"d":-15.5},{"x":-71,"y":21,"d":-15.4},{"x":-63,"y":21,"d":-15.3},{"x":-54,"y":21,"d":-15.6},{"x":-46,"y":21,"d":-17},{"x":-38,"y":21,"d":-19},{"x":38,"y":21,"d":-19},{"x":46,"y":21,"d":-17},{"x":54,"y":21,"d":-15.6},{"x":63,"y":21,"d":-15.3},{"x":71,"y":21,"d":-15.4},{"x":79,"y":21,"d":-15.5},{"x":88,"y":21,"d":-15.6},{"x":96,"y":21,"d":-15.7},{"x":104,"y":21,"d":-15.8},{"x":113,"y":21,"d":-16.1},{"x":121,"y":21,"d":-16.6},{"x":129,"y":21,"d":-17.8},
{"x":-129,"y":-21,"d":-17.8},{"x":-121,"y":-21,"d":-16.6},{"x":-113,"y":-21,"d":-16.1},{"x":-104,"y":-21,"d":-15.8},{"x":-96,"y":-21,"d":-15.7},{"x":-88,"y":-21,"d":-15.6},{"x":-79,"y":-21,"d":-15.5},{"x":-71,"y":-21,"d":-15.4},{"x":-63,"y":-21,"d":-15.3},{"x":-54,"y":-21,"d":-15.6},{"x":-46,"y":-21,"d":-17},{"x":-38,"y":-21,"d":-19},{"x":38,"y":-21,"d":-19},{"x":46,"y":-21,"d":-17},{"x":54,"y":-21,"d":-15.6},{"x":63,"y":-21,"d":-15.3},{"x":71,"y":-21,"d":-15.4},{"x":79,"y":-21,"d":-15.5},{"x":88,"y":-21,"d":-15.6},{"x":96,"y":-21,"d":-15.7},{"x":104,"y":-21,"d":-15.8},{"x":113,"y":-21,"d":-16.1},{"x":121,"y":-21,"d":-16.6},{"x":129,"y":-21,"d":-17.8},
{"x":-129,"y":29,"d":-18.9},{"x":-121,"y":29,"d":-16.8},{"x":-113,"y":29,"d":-16.3},{"x":-104,"y":29,"d":-16},{"x":-96,"y":29,"d":-15.9},{"x":-88,"y":29,"d":-15.9},{"x":-79,"y":29,"d":-15.8},{"x":-71,"y":29,"d":-15.9},{"x":-63,"y":29,"d":-17},{"x":-54,"y":29,"d":-18.9},{"x":54,"y":29,"d":-18.9},{"x":63,"y":29,"d":-17},{"x":71,"y":29,"d":-15.9},{"x":79,"y":29,"d":-15.8},{"x":88,"y":29,"d":-15.9},{"x":96,"y":29,"d":-15.9},{"x":104,"y":29,"d":-16},{"x":113,"y":29,"d":-16.3},{"x":121,"y":29,"d":-16.8},{"x":129,"y":29,"d":-18.9},
{"x":-129,"y":-29,"d":-18.9},{"x":-121,"y":-29,"d":-16.8},{"x":-113,"y":-29,"d":-16.3},{"x":-104,"y":-29,"d":-16},{"x":-96,"y":-29,"d":-15.9},{"x":-88,"y":-29,"d":-15.9},{"x":-79,"y":-29,"d":-15.8},{"x":-71,"y":-29,"d":-15.9},{"x":-63,"y":-29,"d":-17},{"x":-54,"y":-29,"d":-18.9},{"x":54,"y":-29,"d":-18.9},{"x":63,"y":-29,"d":-17},{"x":71,"y":-29,"d":-15.9},{"x":79,"y":-29,"d":-15.8},{"x":88,"y":-29,"d":-15.9},{"x":96,"y":-29,"d":-15.9},{"x":104,"y":-29,"d":-16},{"x":113,"y":-29,"d":-16.3},{"x":121,"y":-29,"d":-16.8},{"x":129,"y":-29,"d":-18.9},
{"x":-121,"y":38,"d":-17.3},{"x":-113,"y":38,"d":-16.6},{"x":-104,"y":38,"d":-16.4},{"x":-96,"y":38,"d":-16.3},{"x":-88,"y":38,"d":-16.2},{"x":-79,"y":38,"d":-16.3},{"x":-71,"y":38,"d":-17.5},{"x":71,"y":38,"d":-17.5},{"x":79,"y":38,"d":-16.3},{"x":88,"y":38,"d":-16.2},{"x":96,"y":38,"d":-16.3},{"x":104,"y":38,"d":-16.4},{"x":113,"y":38,"d":-16.6},{"x":121,"y":38,"d":-17.3},
{"x":-121,"y":-38,"d":-17.3},{"x":-113,"y":-38,"d":-16.6},{"x":-104,"y":-38,"d":-16.4},{"x":-96,"y":-38,"d":-16.3},{"x":-88,"y":-38,"d":-16.2},{"x":-79,"y":-38,"d":-16.3},{"x":-71,"y":-38,"d":-17.5},{"x":71,"y":-38,"d":-17.5},{"x":79,"y":-38,"d":-16.3},{"x":88,"y":-38,"d":-16.2},{"x":96,"y":-38,"d":-16.3},{"x":104,"y":-38,"d":-16.4},{"x":113,"y":-38,"d":-16.6},{"x":121,"y":-38,"d":-17.3},
{"x":-113,"y":46,"d":-18.5},{"x":-104,"y":46,"d":-17.6},{"x":-96,"y":46,"d":-17.4},{"x":-88,"y":46,"d":-17.4},{"x":-79,"y":46,"d":-17.7},{"x":-71,"y":46,"d":-19},{"x":71,"y":46,"d":-19},{"x":79,"y":46,"d":-17.7},{"x":88,"y":46,"d":-17.4},{"x":96,"y":46,"d":-17.4},{"x":104,"y":46,"d":-17.6},{"x":113,"y":46,"d":-18.5},
{"x":-113,"y":-46,"d":-18.5},{"x":-104,"y":-46,"d":-17.6},{"x":-96,"y":-46,"d":-17.4},{"x":-88,"y":-46,"d":-17.4},{"x":-79,"y":-46,"d":-17.7},{"x":-71,"y":-46,"d":-19},{"x":71,"y":-46,"d":-19},{"x":79,"y":-46,"d":-17.7},{"x":88,"y":-46,"d":-17.4},{"x":96,"y":-46,"d":-17.4},{"x":104,"y":-46,"d":-17.6},{"x":113,"y":-46,"d":-18.5}
],
"srcc":[{"r":0,"rho":4.07e-14,"s":"SRCC"},{"r":13,"rho":4.47e-14,"s":"SRCC"},{"r":26,"rho":2.88e-14,"s":"SRCC"},{"r":40,"rho":4.68e-14,"s":"SRCC"},{"r":53,"rho":7.41e-14,"s":"SRCC"},{"r":66,"rho":9.55e-14,"s":"SRCC"},{"r":79,"rho":9.77e-14,"s":"SRCC"},{"r":92,"rho":9.12e-14,"s":"SRCC"},{"r":106,"rho":7.94e-14,"s":"SRCC"},{"r":119,"rho":6.92e-14,"s":"SRCC"},{"r":132,"rho":5.62e-14,"s":"SRCC"},{"r":146,"rho":4.47e-14,"s":"SRCC"},{"r":159,"rho":3.47e-14,"s":"SRCC"},{"r":172,"rho":2.51e-14,"s":"SRCC"},{"r":185,"rho":1.66e-14,"s":"SRCC"},{"r":198,"rho":9.8e-15,"s":"SRCC"},{"r":212,"rho":3.7e-15,"s":"SRCC"},{"r":225,"rho":1.55e-15,"s":"SRCC"},{"r":238,"rho":8.9e-16,"s":"SRCC"},{"r":251,"rho":7.9e-16,"s":"SRCC"},{"r":265,"rho":6.6e-16,"s":"SRCC"},{"r":278,"rho":2.7e-16,"s":"SRCC"},{"r":291,"rho":5.1e-17,"s":"SRCC"},{"r":305,"rho":3.1e-18,"s":"SRCC"},{"r":318,"rho":7.2e-20,"s":"SRCC"},{"r":320,"rho":7.2e-20,"s":"SRCC"}],
"models":[{"r":10,"rho":2.14e-11,"s":"Nice"},{"r":12,"rho":1.12e-11,"s":"Nice"},{"r":15,"rho":5.13e-12,"s":"Nice"},{"r":20,"rho":1.91e-12,"s":"Nice"},{"r":25,"rho":8.71e-13,"s":"Nice"},{"r":30,"rho":4.57e-13,"s":"Nice"},{"r":40,"rho":1.66e-13,"s":"Nice"},{"r":50,"rho":7.59e-14,"s":"Nice"},{"r":60,"rho":4.07e-14,"s":"Nice"},{"r":70,"rho":2.34e-14,"s":"Nice"},{"r":80,"rho":1.48e-14,"s":"Nice"},{"r":100,"rho":6.76e-15,"s":"Nice"},{"r":125,"rho":3.09e-15,"s":"Nice"},{"r":150,"rho":1.62e-15,"s":"Nice"},{"r":175,"rho":9.55e-16,"s":"Nice"},{"r":200,"rho":6.03e-16,"s":"Nice"},{"r":225,"rho":3.98e-16,"s":"Nice"},{"r":250,"rho":2.75e-16,"s":"Nice"},{"r":275,"rho":1.95e-16,"s":"Nice"},{"r":299,"rho":1.45e-16,"s":"Nice"},
{"r":10,"rho":2.69e-12,"s":"Hayashi"},{"r":12,"rho":1.62e-12,"s":"Hayashi"},{"r":15,"rho":8.91e-13,"s":"Hayashi"},{"r":20,"rho":3.98e-13,"s":"Hayashi"},{"r":25,"rho":2.19e-13,"s":"Hayashi"},{"r":30,"rho":1.32e-13,"s":"Hayashi"},{"r":40,"rho":5.89e-14,"s":"Hayashi"},{"r":50,"rho":3.24e-14,"s":"Hayashi"},{"r":60,"rho":1.95e-14,"s":"Hayashi"},{"r":70,"rho":1.29e-14,"s":"Hayashi"},{"r":80,"rho":8.91e-15,"s":"Hayashi"},{"r":100,"rho":4.79e-15,"s":"Hayashi"},{"r":125,"rho":2.57e-15,"s":"Hayashi"},{"r":150,"rho":1.58e-15,"s":"Hayashi"},{"r":175,"rho":1.02e-15,"s":"Hayashi"},{"r":200,"rho":7.08e-16,"s":"Hayashi"},{"r":225,"rho":5.13e-16,"s":"Hayashi"},{"r":250,"rho":3.89e-16,"s":"Hayashi"},{"r":275,"rho":2.95e-16,"s":"Hayashi"},{"r":299,"rho":2.34e-16,"s":"Hayashi"}]
},
"bounds":"flush","spacing":485,
"resolve":{"scale":{"color":"independent"},"legend":{"color":"independent"}},
"vconcat":[
{"bounds":"flush","spacing":192,"resolve":{"scale":{"color":"independent"},"legend":{"color":"independent"}},
"hconcat":[
{"width":392,"height":392,"view":{"stroke":"#666"},"title":{"text":"Density","font":"Liberation Serif","fontSize":12,"fontWeight":"normal","offset":0},
"encoding":{
"x":{"field":"x","type":"quantitative","scale":{"domain":[-267,267],"nice":false,"zero":false},"axis":{"values":[-200,-100,0,100,200],"title":"x  (AU)","grid":false,"tickSize":3,"tickColor":"#444","domainColor":"#777","labelFont":"Liberation Serif","labelFontSize":13,"labelColor":"#222","labelPadding":2,"titleFont":"Liberation Serif","titleFontSize":13.5,"titleFontWeight":"normal","titleColor":"#222","titlePadding":3}},
"y":{"field":"y","type":"quantitative","scale":{"domain":[-267,267],"nice":false,"zero":false},"axis":{"values":[-200,-100,0,100,200],"title":"y  (AU)","grid":false,"tickSize":3,"tickColor":"#444","domainColor":"#777","labelFont":"Liberation Serif","labelFontSize":13,"labelColor":"#222","labelPadding":2,"titleFont":"Liberation Serif","titleFontSize":13.5,"titleFontWeight":"normal","titleColor":"#222","titlePadding":4}},
"color":{"field":"d","type":"quantitative","scale":{"domain":[-20.84,-20.4,-20,-19.5,-19,-18.5,-18,-17.5,-17,-16.5,-16,-15.5,-15,-14.5,-14,-13.5,-13],"range":["#6f0c0c","#751a30","#7d2558","#86308f","#8a3bb8","#8448dc","#7b58ee","#6a70ee","#4b88df","#3f9fc8","#33b5ad","#2fc8a0","#3fd68a","#70dc72","#a8e455","#dcec3c","#fdf336"],"clamp":true},
"legend":{"orient":"none","legendX":392,"legendY":0,"title":null,"direction":"vertical","gradientLength":392,"gradientThickness":15,"values":[-13,-14,-15,-16,-17,-18,-19,-20],"labelExpr":"'10⁻'+['¹³','¹⁴','¹⁵','¹⁶','¹⁷','¹⁸','¹⁹','²⁰','²¹'][-datum.value-13]","labelFont":"Liberation Serif","labelFontSize":13,"labelColor":"#222","labelOffset":4,"gradientStrokeColor":"#555"}}
},
"layer":[
{"data":{"name":"leftPatches"},"mark":{"type":"rect","strokeWidth":0.6},"encoding":{"x2":{"field":"x2"},"y2":{"field":"y2"},"stroke":{"field":"d","type":"quantitative","legend":null,"scale":{"domain":[-20.84,-20.4,-20,-19.5,-19,-18.5,-18,-17.5,-17,-16.5,-16,-15.5,-15,-14.5,-14,-13.5,-13],"range":["#6f0c0c","#751a30","#7d2558","#86308f","#8a3bb8","#8448dc","#7b58ee","#6a70ee","#4b88df","#3f9fc8","#33b5ad","#2fc8a0","#3fd68a","#70dc72","#a8e455","#dcec3c","#fdf336"],"clamp":true}}}},
{"data":{"name":"leftCells"},"mark":{"type":"rect","width":13.3,"height":13.3}},
{"data":{"name":"leftFine"},"mark":{"type":"rect","width":7.3,"height":7.3}},
{"data":{"values":[{"x":204,"x2":214,"y":-227,"y2":-230}]},"mark":{"type":"rect","filled":false,"strokeWidth":1},"encoding":{"x2":{"field":"x2"},"y2":{"field":"y2"},"color":{"value":"#f5e6e6"}}},
{"data":{"values":[{"x":-250,"y":-243,"t":"t = 10.4 kyr"}]},"mark":{"type":"text","font":"Liberation Serif","fontSize":12.5,"align":"left"},"encoding":{"text":{"field":"t"},"color":{"value":"#f0dede"}}},
{"data":{"values":[{"x":209,"y":-243,"t":"10 au"}]},"mark":{"type":"text","font":"Liberation Serif","fontSize":12.5,"align":"center"},"encoding":{"text":{"field":"t"},"color":{"value":"#f0dede"}}},
{"data":{"values":[{"x":336,"y":-45,"t":"Dens"}]},"mark":{"type":"text","font":"Liberation Serif","fontSize":13.5,"angle":270},"encoding":{"text":{"field":"t"},"color":{"value":"#222"}}},
{"data":{"values":[{"x":331,"y":25,"t":"code mass"},{"x":346,"y":25,"t":"code length³"}]},"mark":{"type":"text","font":"Liberation Serif","fontSize":8.5,"angle":270},"encoding":{"text":{"field":"t"},"color":{"value":"#222"}}},
{"data":{"values":[{"x":337,"y":-1,"y2":50}]},"mark":{"type":"rule","strokeWidth":0.8},"encoding":{"y2":{"field":"y2"},"color":{"value":"#222"}}},
{"data":{"values":[{"x":332,"y":-10,"t":"("},{"x":332,"y":58,"t":")"}]},"mark":{"type":"text","font":"Liberation Serif","fontSize":24,"angle":270},"encoding":{"text":{"field":"t"},"color":{"value":"#444"}}}
]},
{"width":392,"height":392,"view":{"stroke":"#666"},"title":{"text":"Density","font":"Liberation Serif","fontSize":12,"fontWeight":"normal","offset":0},
"encoding":{
"x":{"field":"x","type":"quantitative","scale":{"domain":[-267,267],"nice":false,"zero":false},"axis":{"values":[-200,-100,0,100,200],"title":"y  (AU)","grid":false,"tickSize":3,"tickColor":"#444","domainColor":"#777","labelFont":"Liberation Serif","labelFontSize":13,"labelColor":"#222","labelPadding":2,"titleFont":"Liberation Serif","titleFontSize":13.5,"titleFontWeight":"normal","titleColor":"#222","titlePadding":3}},
"y":{"field":"y","type":"quantitative","scale":{"domain":[-267,267],"nice":false,"zero":false},"axis":{"values":[-200,-100,0,100,200],"title":"z  (AU)","grid":false,"tickSize":3,"tickColor":"#444","domainColor":"#777","labelFont":"Liberation Serif","labelFontSize":13,"labelColor":"#222","labelPadding":2,"titleFont":"Liberation Serif","titleFontSize":13.5,"titleFontWeight":"normal","titleColor":"#222","titlePadding":4}},
"color":{"field":"d","type":"quantitative","scale":{"domain":[-21,-20.55,-20.14,-19.63,-19.12,-18.61,-18.1,-17.59,-17.08,-16.57,-16.06,-15.55,-15.04,-14.53,-14.02,-13.51,-13],"range":["#6f0c0c","#751a30","#7d2558","#86308f","#8a3bb8","#8448dc","#7b58ee","#6a70ee","#4b88df","#3f9fc8","#33b5ad","#2fc8a0","#3fd68a","#70dc72","#a8e455","#dcec3c","#fdf336"],"clamp":true},
"legend":{"orient":"none","legendX":392,"legendY":0,"title":null,"direction":"vertical","gradientLength":392,"gradientThickness":15,"values":[-13,-14,-15,-16,-17,-18,-19,-20,-21],"labelExpr":"'10⁻'+['¹³','¹⁴','¹⁵','¹⁶','¹⁷','¹⁸','¹⁹','²⁰','²¹'][-datum.value-13]","labelFont":"Liberation Serif","labelFontSize":13,"labelColor":"#222","labelOffset":4,"gradientStrokeColor":"#555"}}
},
"layer":[
{"data":{"name":"rightPatches"},"mark":{"type":"rect","strokeWidth":0.6},"encoding":{"x2":{"field":"x2"},"y2":{"field":"y2"},"stroke":{"field":"d","type":"quantitative","legend":null,"scale":{"domain":[-21,-20.55,-20.14,-19.63,-19.12,-18.61,-18.1,-17.59,-17.08,-16.57,-16.06,-15.55,-15.04,-14.53,-14.02,-13.51,-13],"range":["#6f0c0c","#751a30","#7d2558","#86308f","#8a3bb8","#8448dc","#7b58ee","#6a70ee","#4b88df","#3f9fc8","#33b5ad","#2fc8a0","#3fd68a","#70dc72","#a8e455","#dcec3c","#fdf336"],"clamp":true}}}},
{"data":{"name":"rightFine"},"mark":{"type":"rect","width":7.3,"height":7.3}},
{"data":{"values":[{"x":204,"x2":214,"y":-227,"y2":-230}]},"mark":{"type":"rect","filled":false,"strokeWidth":1},"encoding":{"x2":{"field":"x2"},"y2":{"field":"y2"},"color":{"value":"#f5e6e6"}}},
{"data":{"values":[{"x":-250,"y":-243,"t":"t = 10.4 kyr"}]},"mark":{"type":"text","font":"Liberation Serif","fontSize":12.5,"align":"left"},"encoding":{"text":{"field":"t"},"color":{"value":"#f0dede"}}},
{"data":{"values":[{"x":209,"y":-243,"t":"10 au"}]},"mark":{"type":"text","font":"Liberation Serif","fontSize":12.5,"align":"center"},"encoding":{"text":{"field":"t"},"color":{"value":"#f0dede"}}},
{"data":{"values":[{"x":336,"y":-45,"t":"Dens"}]},"mark":{"type":"text","font":"Liberation Serif","fontSize":13.5,"angle":270},"encoding":{"text":{"field":"t"},"color":{"value":"#222"}}},
{"data":{"values":[{"x":331,"y":25,"t":"code mass"},{"x":346,"y":25,"t":"code length³"}]},"mark":{"type":"text","font":"Liberation Serif","fontSize":8.5,"angle":270},"encoding":{"text":{"field":"t"},"color":{"value":"#222"}}},
{"data":{"values":[{"x":337,"y":-1,"y2":50}]},"mark":{"type":"rule","strokeWidth":0.8},"encoding":{"y2":{"field":"y2"},"color":{"value":"#222"}}},
{"data":{"values":[{"x":332,"y":-10,"t":"("},{"x":332,"y":58,"t":")"}]},"mark":{"type":"text","font":"Liberation Serif","fontSize":24,"angle":270},"encoding":{"text":{"field":"t"},"color":{"value":"#444"}}}
]}
]},
{"bounds":"flush","spacing":0,"resolve":{"scale":{"color":"independent"}},
"hconcat":[
{"width":314,"height":305,"view":{"stroke":null},"data":{"values":[]},"mark":"rect","encoding":{}},
{"width":469,"height":305,"view":{"stroke":"#555"},
"title":{"text":"Radial Density Profile of Disk Midplane","font":"DejaVu Sans","fontSize":18,"fontWeight":"normal","color":"#222","offset":2},
"encoding":{
"x":{"field":"r","type":"quantitative","scale":{"domain":[0,320],"nice":false},"axis":{"values":[0,50,100,150,200,250,300],"title":"r (AU)","grid":true,"gridColor":"#eeeeee","gridWidth":0.8,"tickSize":4,"tickColor":"#333","domainColor":"#333","labelFlush":false,"labelFont":"DejaVu Sans","labelFontSize":15.5,"labelColor":"#222","titleFont":"DejaVu Sans","titleFontSize":15.5,"titleFontWeight":"normal","titleColor":"#222","titlePadding":1,"labelPadding":3}},
"y":{"field":"rho","type":"quantitative","scale":{"type":"log","domain":[1e-20,5.2e-11],"nice":false},"axis":{"values":[1e-12,1e-14,1e-16,1e-18,1e-20],"title":"Density (g cm⁻³)","titleY":145,"grid":true,"gridColor":"#eeeeee","gridWidth":0.8,"tickSize":4,"tickColor":"#333","domainColor":"#333","labelExpr":"'10⁻'+['¹²','¹⁴','¹⁶','¹⁸','²⁰'][(-round(log(datum.value)/LN10)-12)/2]","labelFont":"DejaVu Sans","labelFontSize":15.5,"labelColor":"#222","titleFont":"DejaVu Sans","titleFontSize":17,"titleFontWeight":"normal","titleColor":"#222","titlePadding":7,"labelPadding":3}},
"color":{"field":"s","type":"nominal","scale":{"domain":["SRCC","Nice","Hayashi"],"range":["#1f77b4","#ff7f0e","#2ca02c"]},"legend":{"orient":"top-right","title":null,"offset":8,"symbolType":"M-0.7,0H0.7","symbolSize":480,"symbolOffset":4,"symbolStrokeWidth":1.6,"labelFont":"DejaVu Sans","labelFontSize":15,"labelColor":"#222","labelOffset":14,"fillColor":"white","strokeColor":"#d8d8d8","padding":2,"rowPadding":0,"cornerRadius":3}}
},
"layer":[
{"data":{"name":"srcc"},"mark":{"type":"line","strokeWidth":1.5,"opacity":0.85,"clip":true}},
{"data":{"name":"models"},"mark":{"type":"line","strokeWidth":1.5,"opacity":0.85,"interpolate":"monotone"}}
]}
]}
]}
